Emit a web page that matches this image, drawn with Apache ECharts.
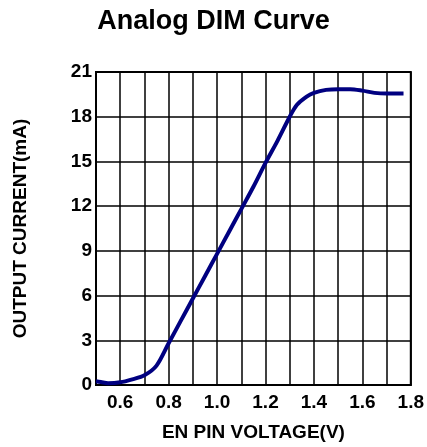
<!DOCTYPE html>
<html>
<head>
<meta charset="utf-8">
<style>
    html, body{
        margin: 0;
        padding: 0;
        background: #fff;
    }
    #chart{
        width: 427px;
        height: 447px;
    }
</style>
<script src="https://cdn.jsdelivr.net/npm/echarts@6/dist/echarts.min.js"></script>
</head>
<body>
<div id="chart"></div>
<script>
    // EN pin voltage (V) and output current (mA)
    var voltage = [0.5, 0.52, 0.55, 0.6, 0.65, 0.7, 0.75, 0.8, 0.85, 0.9, 0.95, 1.0, 1.05, 1.1, 1.15, 1.2, 1.25, 1.3, 1.33, 1.37, 1.4, 1.45, 1.5, 1.55, 1.6, 1.65, 1.7, 1.77];
    var current = [0.25, 0.2, 0.12, 0.18, 0.38, 0.65, 1.3, 2.8, 4.3, 5.8, 7.3, 8.8, 10.3, 11.8, 13.3, 14.9, 16.4, 18.0, 18.8, 19.35, 19.6, 19.8, 19.85, 19.85, 19.75, 19.6, 19.55, 19.55];
    var xLabels = ['0.6', '0.8', '1.0', '1.2', '1.4', '1.6', '1.8'];
    var yTicks = [0, 3, 6, 9, 12, 15, 18, 21];

    var chart = echarts.init(document.getElementById('chart'));
    var points = voltage.map(function (v, i) { return [v, current[i]]; });
    var font = 'Liberation Sans, Arial, sans-serif';

    var option = {
        animation: false,
        title: {
            text: 'Analog DIM Curve',
            left: 'center',
            top: 3,
            textStyle: {
                fontFamily: font,
                fontSize: 27,
                fontWeight: 'bold',
                color: '#000'
            }
        },
        grid: {
            left: 96,
            right: 16,
            top: 72,
            bottom: 60,
            show: true,
            borderColor: '#000',
            borderWidth: 2
        },
        xAxis: {
            type: 'value',
            min: 0.5,
            max: 1.8,
            interval: 0.1,
            name: 'EN PIN VOLTAGE(V)',
            nameLocation: 'middle',
            nameGap: 38,
            nameTextStyle: {fontFamily: font, fontSize: 19, fontWeight: 'bold', color: '#000'},
            axisLine: {lineStyle: {color: '#000', width: 2}},
            axisTick: {show: false},
            axisLabel: {
                fontFamily: font,
                fontSize: 19,
                fontWeight: 'bold',
                color: '#000',
                margin: 8,
                formatter: function (v) {
                    var s = v.toFixed(1);
                    return xLabels.indexOf(s) >= 0 ? s : '';
                }
            },
            splitLine: {show: true, lineStyle: {color: '#000', width: 1.5}}
        },
        yAxis: {
            type: 'value',
            min: yTicks[0],
            max: yTicks[yTicks.length - 1],
            interval: 3,
            name: 'OUTPUT CURRENT(mA)',
            nameLocation: 'middle',
            nameGap: 66,
            nameTextStyle: {fontFamily: font, fontSize: 19, fontWeight: 'bold', color: '#000'},
            axisLine: {show: true, lineStyle: {color: '#000', width: 2}},
            axisTick: {show: false},
            axisLabel: {fontFamily: font, fontSize: 19, fontWeight: 'bold', color: '#000', margin: 4},
            splitLine: {show: true, lineStyle: {color: '#000', width: 1.5}}
        },
        series: [{
            type: 'line',
            data: points,
            smooth: 0.3,
            showSymbol: false,
            lineStyle: {color: '#000080', width: 4}
        }]
    };
    chart.setOption(option);
</script>
</body>
</html>
